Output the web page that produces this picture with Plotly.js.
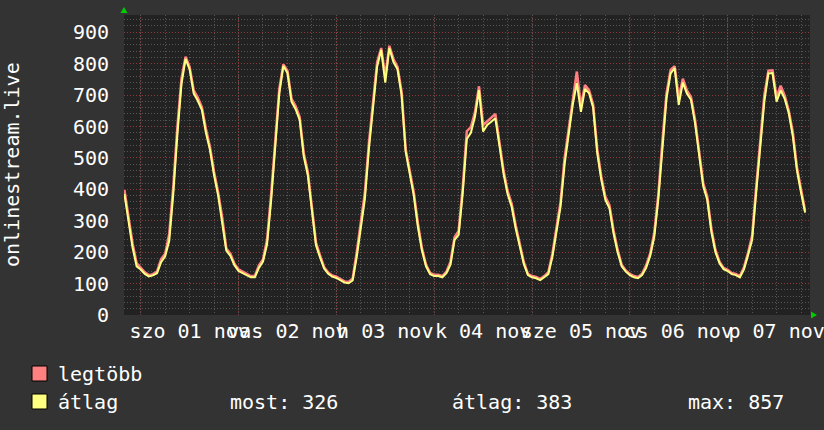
<!DOCTYPE html>
<html>
<head>
<meta charset="utf-8">
<script src="https://cdn.plot.ly/plotly-3.0.1.min.js"></script>
<style>html,body{margin:0;padding:0;background:#333333;}#chart{width:824px;height:430px;}</style>
</head>
<body>
<div id="chart"></div>
<script>
// ---- data (hourly, starting 2025-10-31 20:00) ----
const startTime = '2025-10-31T20:00:00Z';
const avgValues = [
  385,302,215,155,
  145,131,123,126,133,168,187,236,387,575,735,815,782,705,682,653,580,525,445,380,300,205,188,158,
  140,134,127,120,120,150,170,225,365,535,705,793,770,679,655,621,505,445,340,222,183,148,131,122,
  118,110,103,101,110,185,275,370,530,663,790,844,740,850,805,782,700,520,445,380,281,205,155,130,
  124,124,120,133,160,239,255,387,560,580,631,716,584,605,615,626,540,451,385,345,275,222,162,127,
  120,117,111,120,130,185,265,345,480,578,670,738,647,720,706,660,515,430,366,340,260,200,155,138,
  127,120,117,127,150,188,249,370,536,690,769,786,669,740,705,685,610,500,410,366,265,200,165,146,
  140,130,127,120,145,190,239,390,530,680,769,770,679,715,688,642,568,460,390,326
];
const maxValues = [
  398,312,228,165,
  150,136,127,130,138,178,195,258,410,600,752,822,790,715,692,662,592,535,455,390,310,212,195,163,
  145,138,131,124,124,158,177,240,385,555,720,798,778,688,665,630,515,455,350,230,190,152,135,126,
  122,114,107,105,116,200,290,390,550,680,805,850,760,857,815,790,712,528,455,390,292,212,160,134,
  128,128,124,138,170,248,268,405,585,598,645,728,605,618,628,640,552,462,395,355,285,230,168,131,
  124,121,115,124,136,195,280,360,500,595,690,775,665,732,715,670,528,440,376,350,270,208,160,142,
  131,124,121,131,158,196,262,385,555,705,780,792,690,752,715,694,622,512,420,376,275,207,170,150,
  144,134,131,124,152,198,252,408,545,700,778,779,695,730,698,650,580,470,400,332
];
const dayStarts = ['2025-11-01','2025-11-02','2025-11-03','2025-11-04','2025-11-05','2025-11-06','2025-11-07'];
const dayLabelPos = ['2025-11-01 12:00','2025-11-02 12:00','2025-11-03 12:00','2025-11-04 12:00','2025-11-05 12:00','2025-11-06 12:00','2025-11-07 12:00'];
const dayLabels = ['szo 01 nov','vas 02 nov','h 03 nov','k 04 nov','sze 05 nov','cs 06 nov','p 07 nov'];
const yTicks = [0,100,200,300,400,500,600,700,800,900];
const seriesNames = ['legtöbb','átlag'];
const seriesColors = ['#ff8080','#ffff80'];
const statsText = ['most: 326','átlag: 383','max: 857'];

// ---- build time axis ----
const t0 = Date.parse(startTime);
const times = avgValues.map((_, i) => new Date(t0 + i*3600000).toISOString().slice(0,19).replace('T',' '));

// pixel -> paper helpers (plot area: x 124..810, y 15..315)
const L = 124, R = 810, T = 15, B = 315;
const px = x => (x - L) / (R - L);
const py = y => (B - y) / (B - T);

const mono = 'DejaVu Sans Mono';
const traces = [
  {x: times, y: maxValues, type: 'scatter', mode: 'lines', name: seriesNames[0],
   line: {color: seriesColors[0], width: 2.5}, hoverinfo: 'skip'},
  {x: times, y: avgValues, type: 'scatter', mode: 'lines', name: seriesNames[1],
   line: {color: seriesColors[1], width: 2}, hoverinfo: 'skip'}
];

const shapes = dayStarts.map(d => ({
  type: 'line', xref: 'x', yref: 'paper', x0: d, x1: d, y0: 0, y1: 1, layer: 'below',
  line: {color: '#8a3a3a', width: 1, dash: '1px,2px'}
}));
// legend squares
[366, 394].forEach((y, i) => shapes.push({
  type: 'rect', xref: 'paper', yref: 'paper', x0: px(32), x1: px(47), y0: py(y + 15), y1: py(y),
  fillcolor: seriesColors[i], line: {color: '#000000', width: 1}
}));
// green arrows
shapes.push({type: 'path', xref: 'paper', yref: 'paper',
  path: `M ${px(120.5)} ${py(13)} L ${px(127.5)} ${py(13)} L ${px(124)} ${py(7)} Z`,
  fillcolor: '#00cc00', line: {width: 0}});
shapes.push({type: 'path', xref: 'paper', yref: 'paper',
  path: `M ${px(811)} ${py(311.5)} L ${px(811)} ${py(318.5)} L ${px(817)} ${py(315)} Z`,
  fillcolor: '#00cc00', line: {width: 0}});

const annFont = {family: mono, size: 20, color: '#ffffff'};
const annotations = [
  {text: 'onlinestream.live', xref: 'paper', yref: 'paper', x: px(12), y: py(165), textangle: -90,
   showarrow: false, xanchor: 'center', yanchor: 'middle', font: {family: mono, size: 20, color: '#ffffff'}},
  {text: seriesNames[0], xref: 'paper', yref: 'paper', x: px(56), y: py(374), showarrow: false, xanchor: 'left', yanchor: 'middle', font: annFont},
  {text: seriesNames[1], xref: 'paper', yref: 'paper', x: px(56), y: py(402), showarrow: false, xanchor: 'left', yanchor: 'middle', font: annFont},
  {text: statsText[0], xref: 'paper', yref: 'paper', x: px(228), y: py(402), showarrow: false, xanchor: 'left', yanchor: 'middle', font: annFont},
  {text: statsText[1], xref: 'paper', yref: 'paper', x: px(450), y: py(402), showarrow: false, xanchor: 'left', yanchor: 'middle', font: annFont},
  {text: statsText[2], xref: 'paper', yref: 'paper', x: px(686), y: py(402), showarrow: false, xanchor: 'left', yanchor: 'middle', font: annFont}
];

const layout = {
  width: 824, height: 430,
  margin: {l: L, r: 824 - R, t: T, b: 430 - B, pad: 0},
  paper_bgcolor: '#333333', plot_bgcolor: '#222222',
  showlegend: false,
  font: {family: mono, color: '#ffffff'},
  xaxis: {
    type: 'date', range: ['2025-10-31 19:54', '2025-11-07 20:12'],
    tickmode: 'array', tickvals: dayLabelPos, ticktext: dayLabels, tickangle: 0,
    ticklabeloverflow: 'allow', ticks: '', showgrid: false, zeroline: false, showline: false,
    tickfont: {family: mono, size: 20, color: '#ffffff'}, ticklabelstandoff: 2,
    minor: {tickmode: 'linear', tick0: '2025-11-01', dtick: 6*3600000, showgrid: true,
            gridcolor: '#555555', griddash: '1px,2px', gridwidth: 1, ticks: ''}
  },
  yaxis: {
    range: [0, 955], tickmode: 'array', tickvals: yTicks, ticks: '',
    showgrid: true, gridcolor: '#8a3a3a', griddash: '1px,2px', gridwidth: 1,
    zeroline: false, showline: false, ticklabelstandoff: 14,
    tickfont: {family: mono, size: 20, color: '#ffffff'},
    minor: {tickmode: 'linear', tick0: 0, dtick: 20, showgrid: true,
            gridcolor: '#555555', griddash: '1px,2px', gridwidth: 1, ticks: ''}
  },
  shapes: shapes,
  annotations: annotations
};

Plotly.newPlot('chart', traces, layout, {displayModeBar: false, staticPlot: true});
</script>
</body>
</html>
